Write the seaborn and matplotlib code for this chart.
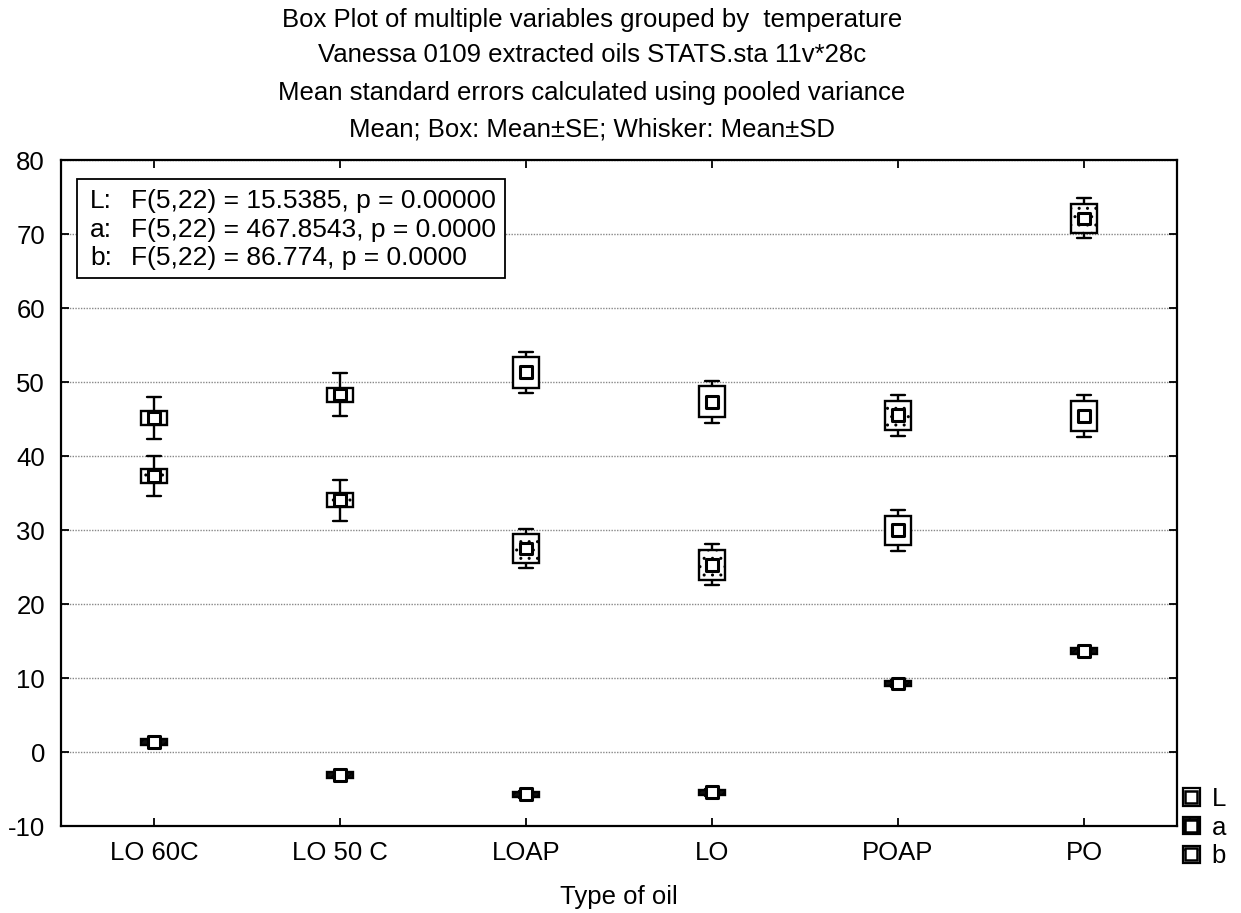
import numpy as np
import pandas as pd
import matplotlib
matplotlib.use("Agg")
import matplotlib.pyplot as plt
import seaborn as sns
from matplotlib.patches import Patch, Rectangle
from matplotlib.lines import Line2D

# Values: mean, standard error, standard deviation
oils = ["LO 60C", "LO 50 C", "LOAP", "LO", "POAP", "PO"]
variables = ["L", "a", "b"]

L_mean = [45.1, 48.3, 51.3, 47.35, 29.95, 45.4]
L_se = [0.93, 0.95, 2.05, 2.1, 2.0, 2.0]
L_sd = [2.85, 2.85, 2.8, 2.85, 2.8, 2.85]

a_mean = [1.35, -3.1, -5.7, -5.45, 9.25, 13.65]
a_se = [0.35, 0.35, 0.35, 0.35, 0.35, 0.35]
a_sd = [0.45, 0.45, 0.45, 0.45, 0.45, 0.45]

b_mean = [37.3, 34.0, 27.5, 25.3, 45.5, 72.1]
b_se = [0.9, 0.95, 1.95, 2.0, 2.0, 1.9]
b_sd = [2.7, 2.75, 2.7, 2.75, 2.75, 2.7]

f_labels = ["L:", "a:", "b:"]
f_texts = ["F(5,22) = 15.5385, p = 0.00000",
           "F(5,22) = 467.8543, p = 0.0000",
           "F(5,22) = 86.774, p = 0.0000"]

stats = {"L": (L_mean, L_se, L_sd), "a": (a_mean, a_se, a_sd), "b": (b_mean, b_se, b_sd)}

# 5 points per box so that quartiles = mean+-SE and extremes = mean+-SD
rows = []
for var, (m, se, sd) in stats.items():
    for oil, mi, si, di in zip(oils, m, se, sd):
        for v in [mi - di, mi - si, mi, mi + si, mi + di]:
            rows.append({"oil": oil, "variable": var, "value": v})
df = pd.DataFrame(rows)
means = pd.DataFrame([{"oil": o, "variable": var, "value": mi}
                      for var, (m, _, _) in stats.items() for o, mi in zip(oils, m)])

sns.set_style("ticks")
plt.rcParams["font.family"] = ["Liberation Sans", "DejaVu Sans"]
plt.rcParams["axes.unicode_minus"] = False
for k in ["text.color", "axes.labelcolor", "xtick.color", "ytick.color", "axes.edgecolor"]:
    plt.rcParams[k] = "black"
plt.rcParams["hatch.color"] = "#8a8a8a"
plt.rcParams["hatch.linewidth"] = 1.0

fs = 18.5
W, H = 1241, 913
fig = plt.figure(figsize=(W / 100, H / 100), dpi=100)
ax = fig.add_axes([61 / W, 87 / H, 1116 / W, 666 / H])

face = {"L": "white", "a": "#111111", "b": "#fbfbfb"}
hatch = {"L": None, "a": "////", "b": ".."}
sns.boxplot(data=df, x="oil", y="value", hue="variable", order=oils, hue_order=variables,
            palette=face, saturation=1, dodge=False, width=0.14, whis=(0, 100),
            linecolor="black", linewidth=1.7, showfliers=False, legend=False,
            medianprops={"linewidth": 0}, capwidths=0.075, ax=ax)

for p in ax.patches:
    fc = p.get_facecolor()
    for var in variables:
        if np.allclose(fc[:3], matplotlib.colors.to_rgb(face[var])) and hatch[var]:
            p.set_hatch(hatch[var])

sns.stripplot(data=means, x="oil", y="value", hue="variable", order=oils, hue_order=variables,
              palette={"L": "white", "a": "white", "b": "white"}, dodge=False, jitter=False,
              marker="s", size=8.5, edgecolor="black", linewidth=2.2, legend=False, zorder=5, ax=ax)

ax.set_xlim(-0.5, 5.5)
ax.set_ylim(-10, 80)
ax.set_yticks(range(-10, 81, 10))
ax.yaxis.grid(True, linestyle=(0, (1, 1)), color="#888888", linewidth=1)
ax.set_axisbelow(True)
for s in ax.spines.values():
    s.set_visible(True)
    s.set_linewidth(1.6)
ax.tick_params(direction="in", length=6, width=1.3, top=True, right=True, labelsize=fs)
ax.tick_params(axis="y", pad=11.5)
ax.tick_params(axis="x", pad=11)
ax.set_xlabel("Type of oil", fontsize=fs, labelpad=14.5)
ax.set_ylabel("")

# F-test box in the upper left corner
ax.add_patch(Rectangle((16 / 1116, 1 - 118 / 666), 428 / 1116, 99 / 666, transform=ax.transAxes,
                       facecolor="white", edgecolor="black", linewidth=1.3, zorder=9))
for i, (lab, txt) in enumerate(zip(f_labels, f_texts)):
    yb = 1 - (48 + 28.5 * i) / 666
    ax.text(29 / 1116, yb, lab, transform=ax.transAxes, ha="left", va="baseline", fontsize=19, zorder=10)
    ax.text(70 / 1116, yb, txt, transform=ax.transAxes, ha="left", va="baseline", fontsize=19, zorder=10)

cx = 592 / W
titles = ["Box Plot of multiple variables grouped by  temperature",
          "Vanessa 0109 extracted oils STATS.sta 11v*28c",
          "Mean standard errors calculated using pooled variance",
          "Mean; Box: Mean±SE; Whisker: Mean±SD"]
for t, yb in zip(titles, [27, 62, 100, 137]):
    fig.text(cx, 1 - yb / H, t, ha="center", va="baseline", fontsize=fs)

handles = []
for var in variables:
    patch = Patch(facecolor=face[var], edgecolor="black", linewidth=1.6, hatch=hatch[var])
    mark = Line2D([], [], marker="s", markersize=8, markerfacecolor="white",
                  markeredgecolor="black", markeredgewidth=1.8, linestyle="none")
    handles.append((patch, mark))
fig.legend(handles, variables, loc="upper left", bbox_to_anchor=(1183 / W, 1 - 787 / H),
           frameon=False, fontsize=fs, handlelength=0.66, handleheight=0.66,
           handletextpad=0.45, labelspacing=0.18, borderaxespad=0, borderpad=0)

fig.savefig("out.png", dpi=100)
